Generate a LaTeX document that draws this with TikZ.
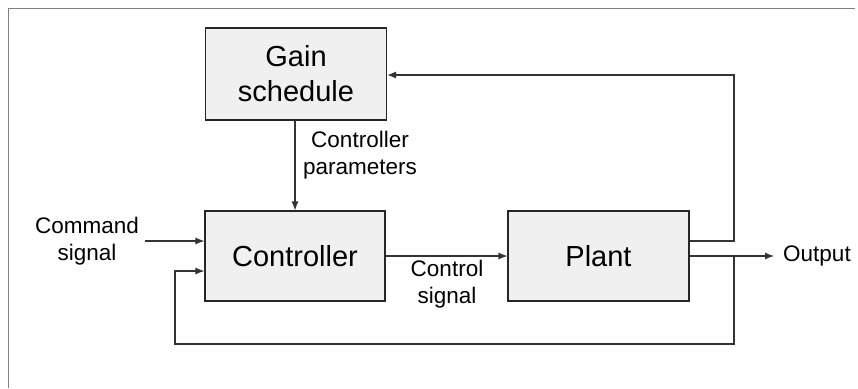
\documentclass[tikz,border=0pt]{standalone}
\usepackage{fontspec}
\setmainfont{Liberation Sans}
\usetikzlibrary{arrows.meta}
\begin{document}
\begin{tikzpicture}[x=1pt,y=-1pt,
  blockbox/.style={draw=black!85, line width=1.1pt, fill=black!6, inner sep=0pt,
    align=center, font=\fontsize{29}{35}\selectfont},
  lbl/.style={align=center, inner sep=0pt, font=\fontsize{22.5}{27}\selectfont},
  conn/.style={draw=black!80, line width=1.1pt},
  arr/.style={conn, -{Latex[length=9pt,width=7pt]}}]
\useasboundingbox (0,0) rectangle (858,388);
\draw[black!50, line width=1pt] (8,388) -- (8,8) -- (855,8);
\node[blockbox, minimum width=181pt, minimum height=92pt] (gain) at (296,74) {Gain\\schedule};
\node[blockbox, minimum width=180pt, minimum height=90pt] (ctrl) at (295,256) {Controller};
\node[blockbox, minimum width=181pt, minimum height=90pt] (plant) at (598.5,256) {Plant};
\node[lbl] (cmd) at (87,241) {Command\\signal};
\node[lbl] (cparam) at (360,155) {Controller\\parameters};
\node[lbl] (csig) at (447,284) {Control\\signal};
\node[lbl, anchor=west] (out) at (783,256) {Output};
\coordinate (cmdend) at (145,241);
\coordinate (outend) at (774,256);
\coordinate (split) at (734,256);
\coordinate (topc) at (734,75);
\coordinate (botl) at (175,344);
\coordinate (botr) at (734,344);
\path (ctrl.west) ++(0,15) coordinate (fbin);
\path (plant.east) ++(0,-15) coordinate (pup);
\draw[arr] (gain.south -| ctrl.north) -- (ctrl.north);
\draw[arr] (cmdend) -- (cmdend -| ctrl.west);
\draw[arr] (ctrl.east) -- (plant.west);
\draw[arr] (plant.east) -- (outend);
\draw[arr] (pup) -| (topc) -- (topc -| gain.east);
\draw[arr] (split) |- (botl) |- (fbin);
\end{tikzpicture}
\end{document}
